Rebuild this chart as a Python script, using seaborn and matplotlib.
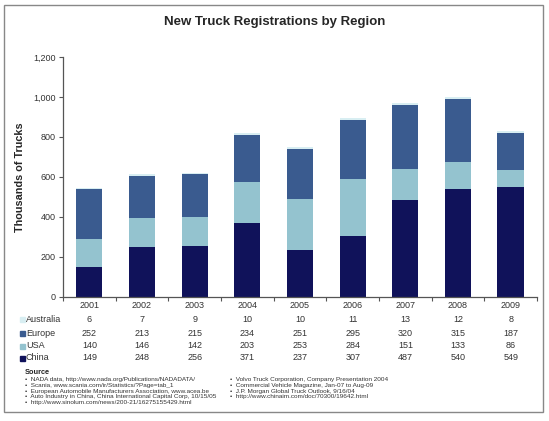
import numpy as np
import pandas as pd
import matplotlib
matplotlib.use("Agg")
import matplotlib.pyplot as plt
import seaborn as sns
from matplotlib.patches import Rectangle

years = ["2001", "2002", "2003", "2004", "2005", "2006", "2007", "2008", "2009"]
china = [149, 248, 256, 371, 237, 307, 487, 540, 549]
usa = [140, 146, 142, 203, 253, 284, 151, 133, 86]
europe = [252, 213, 215, 234, 251, 295, 320, 315, 187]
australia = [6, 7, 9, 10, 10, 11, 13, 12, 8]

regions = ["Australia", "Europe", "USA", "China"]
colors = {"China": "#10125a", "USA": "#94c3cf", "Europe": "#3a5b8f", "Australia": "#d8eef2"}

sources_left = [
    "NADA data, http://www.nada.org/Publications/NADADATA/",
    "Scania, www.scania.com/ir/Statistics/?Page=tab_1",
    "European Automobile Manufacturers Association, www.acea.be",
    "Auto Industry in China, China International Capital Corp, 10/15/05",
    "http://www.sinolum.com/news/200-21/16275155429.html",
]
sources_right = [
    "Volvo Truck Corporation, Company Presentation 2004",
    "Commercial Vehicle Magazine, Jan-07 to Aug-09",
    "J.P. Morgan Global Truck Outlook, 9/16/04",
    "http://www.chinaim.com/doc/70300/19642.html",
]

df = pd.DataFrame({"Year": years, "China": china, "USA": usa,
                   "Europe": europe, "Australia": australia})
df["c1"] = df["China"]
df["c2"] = df["c1"] + df["USA"]
df["c3"] = df["c2"] + df["Europe"]
df["c4"] = df["c3"] + df["Australia"]

sns.set_style("white")
plt.rcParams["font.family"] = ["Liberation Sans", "DejaVu Sans"]

fig = plt.figure(figsize=(5.49, 4.21), dpi=100)
ax = fig.add_axes([63 / 549, 1 - 297 / 421, 474 / 549, 240 / 421])

# stacked bars: draw cumulative totals from the top layer down
for col, name in [("c4", "Australia"), ("c3", "Europe"), ("c2", "USA"), ("c1", "China")]:
    sns.barplot(data=df, x="Year", y=col, color=colors[name], width=0.5,
                saturation=1, ax=ax, linewidth=0)

ax.set_ylim(0, 1200)
ax.set_xlim(-0.5, len(years) - 0.5)
ax.set_yticks(np.arange(0, 1201, 200))
ax.set_yticklabels([f"{v:,}" for v in range(0, 1201, 200)], fontsize=6.5, color="#333333")
ax.set_xticks(range(len(years)))
ax.set_xticklabels(years, fontsize=6.5, color="#333333")
ax.tick_params(axis="x", length=0, pad=3)
ax.tick_params(axis="y", length=3, width=0.8, color="#555555", direction="out", left=True, pad=2)
# category separator ticks
ax.set_xticks(np.arange(-0.5, len(years), 1), minor=True)
ax.tick_params(axis="x", which="minor", length=3, width=0.8, color="#555555", direction="out", bottom=True)
ax.set_xlabel("")
ax.set_ylabel("Thousands of Trucks", fontsize=7.8, fontweight="bold")
ax.yaxis.set_label_coords((25 - 63) / 474, 0.5)
for s in ["top", "right"]:
    ax.spines[s].set_visible(False)
for s in ["left", "bottom"]:
    ax.spines[s].set_color("#555555")
    ax.spines[s].set_linewidth(0.9)

fig.text(275 / 549, 1 - 22 / 421, "New Truck Registrations by Region",
         ha="center", va="center", fontsize=9.5, fontweight="bold")

# data table below the axis
row_y = {"Australia": 319, "Europe": 333, "USA": 346, "China": 358}
vals = {"Australia": australia, "Europe": europe, "USA": usa, "China": china}
for name in regions:
    yf = 1 - row_y[name] / 421
    fig.patches.append(Rectangle((20 / 549, yf - 2.5 / 421), 5 / 549, 5 / 421,
                                 transform=fig.transFigure, color=colors[name]))
    fig.text(26 / 549, yf, name, ha="left", va="center", fontsize=6.5, color="#333333")
    for i, v in enumerate(vals[name]):
        xf = (63 + (i + 0.5) * 474 / 9) / 549
        fig.text(xf, yf, str(v), ha="center", va="center", fontsize=6.5, color="#333333")

fig.text(25 / 549, 1 - 373 / 421, "Source", ha="left", va="center",
         fontsize=5.3, fontweight="bold", color="#222222")
for i, s in enumerate(sources_left):
    fig.text(25 / 549, 1 - (380 + i * 5.6) / 421, "•  " + s, ha="left", va="center",
             fontsize=4.6, color="#333333")
for i, s in enumerate(sources_right):
    fig.text(230 / 549, 1 - (380 + i * 5.6) / 421, "•  " + s, ha="left", va="center",
             fontsize=4.6, color="#333333")

# outer frame
fig.patches.append(Rectangle((4 / 549, 1 - 412 / 421), 539 / 549, 407 / 421,
                             transform=fig.transFigure, fill=False,
                             edgecolor="#888888", linewidth=1))

fig.savefig("out.png", dpi=100)
